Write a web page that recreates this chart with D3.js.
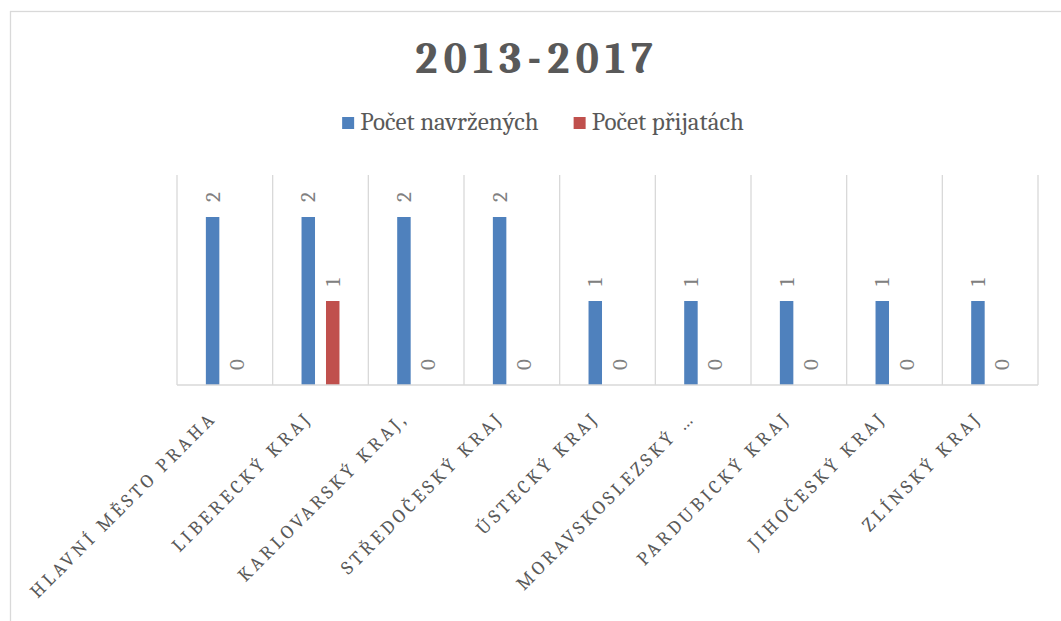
<!DOCTYPE html>
<html lang="cs">
<head>
    <meta charset="UTF-8">
    <title>2013-2017</title>
    <script src="https://d3js.org/d3.v7.min.js"></script>
    <style>
        body {
            margin: 0;
            background: #ffffff;
        }
        svg text {
            font-family: Cambria, "Liberation Serif", serif;
        }
        .grid line {
            stroke: #d9d9d9;
            stroke-width: 1.3px;
        }
    </style>
</head>
<body>
    <div id="chart"></div>

    <script>
        // Data
        const categories = [
            "HLAVNÍ MĚSTO PRAHA",
            "LIBERECKÝ KRAJ",
            "KARLOVARSKÝ KRAJ,",
            "STŘEDOČESKÝ KRAJ",
            "ÚSTECKÝ KRAJ",
            "MORAVSKOSLEZSKÝ …",
            "PARDUBICKÝ KRAJ",
            "JIHOČESKÝ KRAJ",
            "ZLÍNSKÝ KRAJ"
        ];
        const seriesNames = ["Počet navržených", "Počet přijatách"];
        const navrzenych = [2, 2, 2, 2, 1, 1, 1, 1, 1];
        const prijatach = [0, 1, 0, 0, 0, 0, 0, 0, 0];
        const colors = ["#4f81bd", "#c0504d"];
        const titleText = "2013-2017";

        const width = 1061, height = 621;
        const frame = { left: 10, top: 11, width: 1054 };
        const plot = { left: 177, right: 1038, top: 175, bottom: 385 };

        const svg = d3.select("#chart")
            .append("svg")
            .attr("width", width)
            .attr("height", height);

        // chart frame (runs past the right and bottom edge of the shot)
        svg.append("rect")
            .attr("x", frame.left + 0.5)
            .attr("y", frame.top + 0.5)
            .attr("width", frame.width)
            .attr("height", 700)
            .attr("fill", "#fff")
            .attr("stroke", "#d9d9d9")
            .attr("stroke-width", 1.3);

        const rows = categories.map((c, i) => ({ cat: c, values: [navrzenych[i], prijatach[i]] }));

        const x0 = d3.scaleBand()
            .domain(categories)
            .range([plot.left, plot.right])
            .padding(0);

        const x1 = d3.scaleBand()
            .domain([0, 1])
            .range([0, x0.bandwidth()])
            .paddingInner(0.449)
            .paddingOuter(1.18);

        const y = d3.scaleLinear()
            .domain([0, 2.5])
            .range([plot.bottom, plot.top]);

        // vertical gridlines at category boundaries
        const bounds = categories.map(c => x0(c)).concat([plot.right]);
        svg.append("g").attr("class", "grid")
            .selectAll("line")
            .data(bounds)
            .join("line")
            .attr("x1", d => d).attr("x2", d => d)
            .attr("y1", plot.top).attr("y2", plot.bottom);

        // bars
        const groups = svg.append("g")
            .selectAll("g")
            .data(rows)
            .join("g")
            .attr("transform", d => `translate(${x0(d.cat)},0)`);

        groups.selectAll("rect")
            .data(d => d.values.map((v, i) => ({ v, i })))
            .join("rect")
            .attr("x", d => x1(d.i))
            .attr("width", x1.bandwidth())
            .attr("y", d => y(d.v))
            .attr("height", d => y(0) - y(d.v))
            .attr("fill", d => colors[d.i]);

        // rotated data labels
        groups.selectAll("text")
            .data(d => d.values.map((v, i) => ({ v, i })))
            .join("text")
            .attr("transform", d => `translate(${x1(d.i) + x1.bandwidth() / 2},${y(d.v) - 15}) rotate(-90)`)
            .attr("dominant-baseline", "central")
            .attr("text-anchor", "start")
            .attr("fill", "#808080")
            .style("font-size", "21px")
            .text(d => d.v);

        // category axis line
        svg.append("g").attr("class", "grid")
            .append("line")
            .attr("x1", plot.left).attr("x2", plot.right)
            .attr("y1", plot.bottom).attr("y2", plot.bottom);

        // category labels
        const xAxis = svg.append("g")
            .attr("transform", `translate(0,${plot.bottom})`)
            .call(d3.axisBottom(x0).tickSize(0).tickPadding(0));
        xAxis.select(".domain").remove();
        xAxis.selectAll("text")
            .attr("x", 0).attr("y", 0).attr("dy", 0)
            .attr("text-anchor", "end")
            .attr("transform", "translate(-7,34) rotate(-45)")
            .attr("fill", "#595959")
            .style("font-family", 'Cambria, "Liberation Serif", serif')
            .style("font-size", "19px")
            .style("letter-spacing", "3.8px");

        // title
        svg.append("text")
            .attr("x", frame.left + frame.width / 2)
            .attr("y", 73)
            .attr("text-anchor", "middle")
            .attr("fill", "#595959")
            .style("font-size", "44px")
            .style("font-weight", "bold")
            .style("letter-spacing", "6px")
            .text(titleText);

        // legend, centred under the title
        const legend = svg.append("g");
        const items = legend.selectAll("g")
            .data(seriesNames)
            .join("g");
        items.append("rect")
            .attr("y", 117)
            .attr("width", 12).attr("height", 12)
            .attr("fill", (d, i) => colors[i]);
        items.append("text")
            .attr("x", 18)
            .attr("y", 130)
            .attr("fill", "#595959")
            .style("font-size", "25px")
            .text(d => d);

        let cursor = 0;
        items.each(function() {
            const w = d3.select(this).select("text").node().getComputedTextLength();
            d3.select(this).attr("transform", `translate(${cursor},0)`);
            cursor += 18 + w + 35;
        });
        const legendW = cursor - 35;
        legend.attr("transform", `translate(${543 - legendW / 2},0)`);
    </script>
</body>
</html>
